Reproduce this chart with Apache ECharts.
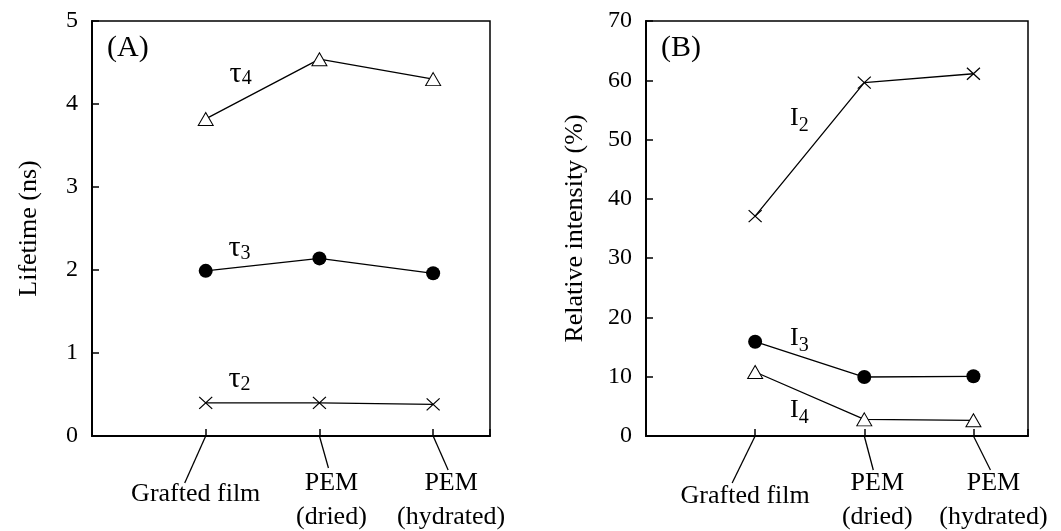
<!DOCTYPE html>
<html>
<head>
<meta charset="utf-8">
<script src="https://cdn.jsdelivr.net/npm/echarts@6/dist/echarts.min.js"></script>
<style>
html,body{margin:0;padding:0;background:#fff;}
#chart{width:1061px;height:531px;}
</style>
</head>
<body>
<div id="chart"></div>
<script>
// ---- data ----
const categories = ['Grafted film', 'PEM\n(dried)', 'PEM\n(hydrated)'];
const catX = [1, 2, 3];
const tau2 = [0.40, 0.40, 0.38];
const tau3 = [1.99, 2.14, 1.96];
const tau4 = [3.82, 4.54, 4.30];
const I2 = [37.1, 59.6, 61.1];
const I3 = [15.9, 9.95, 10.07];
const I4 = [10.8, 2.8, 2.65];
const panelNames = ['(A)', '(B)'];
const yNames = ['Lifetime (ns)', 'Relative intensity (%)'];
// annotation labels: [panel, main, sub, x, y] (data coordinates)
const annotations = [
  [0, 'τ', '4', 1.21, 4.36],
  [0, 'τ', '3', 1.20, 2.26],
  [0, 'τ', '2', 1.20, 0.68],
  [1, 'I', '2', 1.32, 53.2],
  [1, 'I', '3', 1.32, 16.1],
  [1, 'I', '4', 1.32, 4.0]
];

// ---- styles ----
const FONT = '"Liberation Serif", "Times New Roman", serif';
const pair = arr => arr.map((v, i) => [catX[i], v]);
const crossPath = 'path://M0,0L10,10M10,0L0,10';
// label/leader offsets (px) relative to tick position, per panel
const leaderEnd = [
  [[-21, 47], [9, 32], [15, 34]],
  [[-23, 47], [9, 34], [17, 34]]
];
const labelCenter = [
  [[-10, 58], [12, 64], [18, 64]],
  [[-10, 60], [13, 64], [20, 64]]
];

function mkY(idx, max, interval, gap) {
  return {
    gridIndex: idx, type: 'value', min: 0, max: max, interval: interval,
    name: yNames[idx], nameLocation: 'middle', nameGap: gap,
    nameTextStyle: {fontFamily: FONT, fontSize: 26, color: '#000'},
    axisLine: {show: true, lineStyle: {color: '#000', width: 2}},
    axisTick: {show: true, inside: true, length: 7, lineStyle: {color: '#000', width: 1.5}},
    axisLabel: {fontFamily: FONT, fontSize: 24, color: '#000', margin: 14},
    splitLine: {show: false}
  };
}
function mkX(idx) {
  return {
    gridIndex: idx, type: 'value', min: 0, max: 3.5, interval: 1,
    axisLine: {show: true, onZero: false, lineStyle: {color: '#000', width: 2}},
    axisTick: {show: true, inside: true, length: 7, lineStyle: {color: '#000', width: 1.5}},
    axisLabel: {show: false},
    splitLine: {show: false}
  };
}
function lineSeries(idx, data, kind) {
  let symbol, size, itemStyle;
  if (kind === 'tri') {
    symbol = 'triangle'; size = [15, 13];
    itemStyle = {color: '#fff', borderColor: '#000', borderWidth: 1};
  } else if (kind === 'dot') {
    symbol = 'circle'; size = 14;
    itemStyle = {color: '#000', borderColor: '#000', borderWidth: 0};
  } else {
    symbol = crossPath; size = [13, 12];
    itemStyle = {color: 'none', borderColor: '#000', borderWidth: 1.2};
  }
  return {
    type: 'line', xAxisIndex: idx, yAxisIndex: idx, data: pair(data),
    symbol: symbol, symbolSize: size, showAllSymbol: true,
    lineStyle: {color: '#000', width: 1.3}, itemStyle: itemStyle,
    z: kind === 'tri' ? 3 : 2
  };
}

const chart = echarts.init(document.getElementById('chart'), null, {renderer: 'canvas'});
const grids = [
  {left: 92, top: 21, width: 398, height: 415},
  {left: 646, top: 21, width: 382, height: 415}
];
chart.setOption({
  animation: false,
  backgroundColor: '#fff',
  grid: grids.map(g => Object.assign({show: true, borderColor: '#000', borderWidth: 1.5, backgroundColor: 'transparent'}, g)),
  xAxis: [mkX(0), mkX(1)],
  yAxis: [mkY(0, 5, 1, 50), mkY(1, 70, 10, 58)],
  series: [
    lineSeries(0, tau4, 'tri'),
    lineSeries(0, tau3, 'dot'),
    lineSeries(0, tau2, 'cross'),
    lineSeries(1, I2, 'cross'),
    lineSeries(1, I3, 'dot'),
    lineSeries(1, I4, 'tri')
  ]
});

// ---- decorations computed from the axes ----
const graphics = [];
[0, 1].forEach(p => {
  const y0 = chart.convertToPixel({gridIndex: p}, [0, 0])[1];
  catX.forEach((cx, i) => {
    const x0 = chart.convertToPixel({gridIndex: p}, [cx, 0])[0];
    const le = leaderEnd[p][i], lc = labelCenter[p][i];
    graphics.push({
      type: 'line', silent: true,
      shape: {x1: x0, y1: y0, x2: x0 + le[0], y2: y0 + le[1]},
      style: {stroke: '#000', lineWidth: 1.3}
    });
    graphics.push({
      type: 'text', silent: true, x: x0 + lc[0], y: y0 + lc[1],
      style: {text: categories[i], font: '26px ' + FONT, fill: '#000',
        align: 'center', verticalAlign: 'middle', lineHeight: 34}
    });
  });
  const tl = chart.convertToPixel({gridIndex: p}, [0, p === 0 ? 5 : 70]);
  graphics.push({
    type: 'text', silent: true, x: tl[0] + 15, y: tl[1] + 27,
    style: {text: panelNames[p], font: '30px ' + FONT, fill: '#000', align: 'left', verticalAlign: 'middle'}
  });
});
annotations.forEach(a => {
  const pt = chart.convertToPixel({gridIndex: a[0]}, [a[3], a[4]]);
  const mainSize = a[1] === 'τ' ? 30 : 26;
  graphics.push({
    type: 'text', silent: true, x: pt[0], y: pt[1],
    style: {
      text: '{t|' + a[1] + '}{s|' + a[2] + '}',
      align: 'left', verticalAlign: 'middle',
      rich: {
        t: {fontFamily: FONT, fontSize: mainSize, lineHeight: 30, verticalAlign: 'top', fill: '#000'},
        s: {fontFamily: FONT, fontSize: 20, lineHeight: 16, verticalAlign: 'bottom', fill: '#000'}
      }
    }
  });
});
chart.setOption({graphic: graphics});
</script>
</body>
</html>
